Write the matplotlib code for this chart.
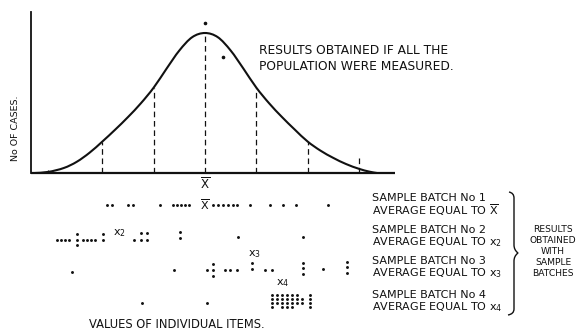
import matplotlib

matplotlib.use("Agg")
import matplotlib.pyplot as plt
import numpy as np
from matplotlib.patches import PathPatch
from matplotlib.path import Path

plt.rcParams["font.family"] = ["DejaVu Sans"]
plt.rcParams["mathtext.fontset"] = "dejavusans"

INK = "#111111"

# Population: value of an item against number of cases (mean 50, sigma 10).
curve_values = [16.9, 19.5, 22.5, 25.0, 27.5, 30.0, 32.5, 35.0, 37.5, 40.0, 42.5, 45.0, 47.5,
                50.0, 52.5, 55.0, 57.5, 60.0, 62.5, 65.0, 67.5, 70.0, 72.5, 75.0, 77.5,
                80.0, 82.0, 83.5]
curve_cases = [0.0, 0.8, 3.6, 8.0, 14.5, 22.5, 31.0, 40.0, 49.8, 61.0, 74.5, 87.5, 97.0,
               100.0, 97.0, 87.5, 74.5, 61.0, 49.8, 40.0, 31.0, 22.5, 16.0, 10.8, 6.4,
               3.0, 1.0, 0.0]
ordinate_values = [19.4, 30.0, 40.0, 50.0, 60.0, 70.0, 80.0]
ordinate_cases = [2.5, 22.5, 61.0, 100.0, 61.0, 22.5, 11.4]
speck_values = [50.0, 53.5]
speck_cases = [107.0, 83.0]
MEAN = 50.0

# Sample batches: item values and how far each dot sits off its row (stacked repeats).
batch_rows = [1.0, 2.1, 3.0, 4.0]
batch1_values = [30.9, 31.9, 35.0, 36.0, 41.2, 43.8, 44.6, 45.3, 46.1, 46.9,
                 51.6, 52.5, 53.5, 54.5, 55.5, 56.2, 58.8, 62.7, 65.2, 67.7, 74.0]
batch1_offsets = [0.0, 0.0, 0.0, 0.0, 0.0, 0.0, 0.0, 0.0, 0.0, 0.0,
                  0.0, 0.0, 0.0, 0.0, 0.0, 0.0, 0.0, 0.0, 0.0, 0.0, 0.0]
batch2_values = [21.2, 21.9, 22.7, 23.5, 25.0, 25.0, 25.0, 26.2, 27.0, 27.8, 28.6, 30.1, 30.1,
                 36.2, 37.5, 37.5, 38.7, 38.7, 45.1, 45.1, 56.4, 69.1]
batch2_offsets = [0.0, 0.0, 0.0, 0.0, -0.19, 0.0, 0.16, 0.0, 0.0, 0.0, 0.0, -0.19, 0.0,
                  0.0, -0.22, 0.0, -0.22, 0.0, -0.25, -0.06, -0.09, -0.09]
batch3_values = [24.1, 44.0, 50.4, 51.6, 51.6, 51.6, 53.9, 54.9, 56.2, 59.2, 59.2, 61.7, 63.1,
                 69.1, 69.1, 69.1, 73.0, 77.7, 77.7, 77.7]
batch3_offsets = [0.09, 0.03, 0.03, -0.16, 0.03, 0.22, 0.03, 0.03, 0.03, -0.19, 0.0, 0.03, 0.03,
                  -0.19, -0.03, 0.16, 0.0, -0.22, -0.06, 0.12]
batch4_values = [37.7, 50.4,
                 63.1, 64.0, 65.0, 66.0, 67.0, 67.9, 70.5,
                 63.1, 64.0, 65.0, 66.0, 67.0, 67.9, 68.9, 70.5,
                 63.1, 64.0, 65.0, 66.0, 67.0, 67.9, 68.9, 70.5,
                 63.1, 65.0, 66.0, 67.0, 70.5]
batch4_offsets = [0.06, 0.06,
                  -0.19, -0.19, -0.19, -0.19, -0.19, -0.19, -0.19,
                  -0.06, -0.06, -0.06, -0.06, -0.06, -0.06, -0.06, -0.06,
                  0.06, 0.06, 0.06, 0.06, 0.06, 0.06, 0.06, 0.06,
                  0.19, 0.19, 0.19, 0.19, 0.19]
batch_values = [batch1_values, batch2_values, batch3_values, batch4_values]
batch_offsets = [batch1_offsets, batch2_offsets, batch3_offsets, batch4_offsets]

# Where each batch average is marked: (value, offset from row, label).
average_marks = [
    (MEAN, 0.0, r"$\overline{\mathsf{X}}$"),
    (33.4, -0.22, r"$\mathsf{x}_{2}$"),
    (59.7, -0.45, r"$\mathsf{x}_{3}$"),
    (65.2, -0.56, r"$\mathsf{x}_{4}$"),
]
batch_captions = [
    ("SAMPLE BATCH No 1", r"AVERAGE EQUAL TO $\overline{\mathsf{X}}$"),
    ("SAMPLE BATCH No 2", r"AVERAGE EQUAL TO $\mathsf{x}_{2}$"),
    ("SAMPLE BATCH No 3", r"AVERAGE EQUAL TO $\mathsf{x}_{3}$"),
    ("SAMPLE BATCH No 4", r"AVERAGE EQUAL TO $\mathsf{x}_{4}$"),
]
batch_summary = ["RESULTS", "OBTAINED", "WITH", "SAMPLE", "BATCHES"]

# Layout, in pixels of the 577x330 figure.
W, H = 577, 330
PX_PER_UNIT = 5.13
MEAN_PX = 205
AXIS_PX = 31
XMIN = MEAN - (MEAN_PX - AXIS_PX) / PX_PER_UNIT
XMAX = MEAN + (W - MEAN_PX) / PX_PER_UNIT
BASE_PX, TOP_PX = 173, 12
CASES_PER_PX = 1 / 1.4
DOTS_TOP_PX, ROW_PX = 189, 32


def smooth_path(xs, ys):
    """Cubic Bezier path through the points (Catmull-Rom tangents)."""
    pts = np.column_stack([xs, ys]).astype(float)
    verts = [pts[0]]
    codes = [Path.MOVETO]
    n = len(pts)
    for i in range(n - 1):
        p0 = pts[max(i - 1, 0)]
        p1, p2 = pts[i], pts[i + 1]
        p3 = pts[min(i + 2, n - 1)]
        verts += [p1 + (p2 - p0) / 6, p2 - (p3 - p1) / 6, p2]
        codes += [Path.CURVE4] * 3
    return Path(verts, codes)


fig = plt.figure(figsize=(W / 100, H / 100), dpi=100)

overlay = fig.add_axes([0, 0, 1, 1])
overlay.set_xlim(0, W)
overlay.set_ylim(H, 0)
overlay.axis("off")

ax = fig.add_axes([AXIS_PX / W, (H - BASE_PX) / H, (W - AXIS_PX) / W, (BASE_PX - TOP_PX) / H])
ax.set_xlim(XMIN, XMAX)
ax.set_ylim(0, (BASE_PX - TOP_PX) * CASES_PER_PX)
for side in ("top", "right", "bottom"):
    ax.spines[side].set_visible(False)
ax.spines["left"].set_linewidth(1.3)
ax.spines["left"].set_color(INK)
ax.set_xticks([])
ax.set_yticks([])
ax.patch.set_alpha(0)

ax.plot([XMIN, 87.0], [0, 0], color=INK, lw=1.6, clip_on=False, solid_capstyle="butt")
ax.add_patch(PathPatch(smooth_path(curve_values, curve_cases), fill=False, lw=1.5,
                       edgecolor=INK, joinstyle="round"))
for value, cases in zip(ordinate_values, ordinate_cases):
    ax.plot([value, value], [0, cases], color=INK, lw=0.9, dashes=(4.5, 3))
ax.plot(speck_values, speck_cases, "o", color=INK, ms=1.6, clip_on=False)

dots = fig.add_axes([AXIS_PX / W, (H - DOTS_TOP_PX - 4 * ROW_PX) / H, (W - AXIS_PX) / W, 4 * ROW_PX / H])
dots.set_xlim(XMIN, XMAX)
dots.set_ylim(4.5, 0.5)
dots.axis("off")

for row, values, offsets in zip(batch_rows, batch_values, batch_offsets):
    dots.plot(values, [row + off for off in offsets], "o", color=INK, ms=2.1, mew=0, clip_on=False)

for row, (value, off, label) in zip(batch_rows, average_marks):
    dots.text(value, row + off, label, ha="center", va="center", fontsize=8, color=INK)

# mean marked under the population baseline
dots.text(MEAN, 0.5 + (184 - DOTS_TOP_PX) / ROW_PX, r"$\overline{\mathsf{X}}$",
          ha="center", va="center", fontsize=8.5, color=INK)

overlay.text(259, 59, "RESULTS OBTAINED IF ALL THE\nPOPULATION WERE MEASURED.",
             ha="left", va="center", linespacing=1.3, color=INK, fontsize=8.8)
overlay.text(16, 128, "No OF CASES.", rotation=90, ha="center", va="center",
             color=INK, fontsize=6.8)
overlay.text(177, 324, "VALUES OF INDIVIDUAL ITEMS.", ha="center", va="center",
             color=INK, fontsize=8.3)

caption_rows = [204, 236, 267.5, 301]
for y, (first, second) in zip(caption_rows, batch_captions):
    overlay.text(372, y - 6, first, ha="left", va="center", color=INK, fontsize=8.0)
    overlay.text(372, y + 6, second, ha="left", va="center", color=INK, fontsize=8.0)

for i, word in enumerate(batch_summary):
    overlay.text(553, 230 + i * 10.8, word, ha="center", va="center", color=INK, fontsize=6.6)

# curly brace gathering the four batches
bx, top, mid, bot = 511, 192, 253, 315
verts = [(bx - 2, top), (bx + 3, top + 1), (bx + 3, top + 6), (bx + 3, top + 12),
         (bx + 3, mid - 8), (bx + 3, mid - 3), (bx + 7, mid),
         (bx + 3, mid + 3), (bx + 3, mid + 8),
         (bx + 3, bot - 12), (bx + 3, bot - 6), (bx + 3, bot - 1), (bx - 3, bot)]
codes = [Path.MOVETO, Path.CURVE3, Path.CURVE3, Path.LINETO,
         Path.LINETO, Path.CURVE3, Path.CURVE3,
         Path.CURVE3, Path.CURVE3,
         Path.LINETO, Path.LINETO, Path.CURVE3, Path.CURVE3]
overlay.add_patch(PathPatch(Path(verts, codes), fill=False, lw=1.0, edgecolor=INK))

fig.savefig("out.png", dpi=100)
